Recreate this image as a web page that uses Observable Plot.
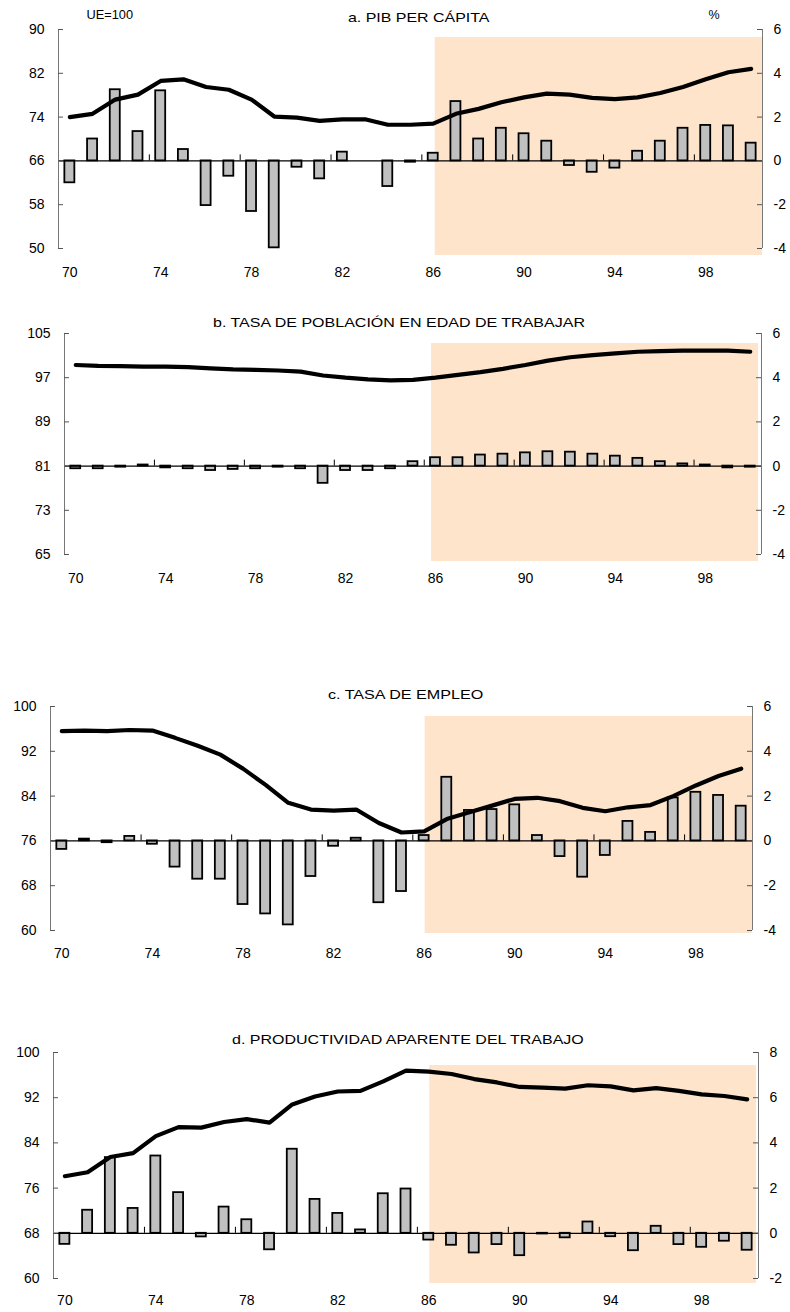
<!DOCTYPE html>
<html><head><meta charset="utf-8">
<script src="https://cdn.jsdelivr.net/npm/d3@7"></script>
<script src="https://cdn.jsdelivr.net/npm/@observablehq/plot@0.6"></script>
<style>
body{margin:0;background:#fff;font-family:"Liberation Sans",Arial,sans-serif;}
#page{position:relative;width:790px;height:1312px;overflow:hidden;background:#fff;}
.lbl{position:absolute;white-space:nowrap;color:#000;line-height:1;font-family:"Liberation Sans",Arial,sans-serif;}
svg.pnl{position:absolute;left:0;}
</style></head><body><div id="page"></div>
<script>
// ---- data ----
const years = [70,71,72,73,74,75,76,77,78,79,80,81,82,83,84,85,86,87,88,89,90,91,92,93,94,95,96,97,98,99,100];
const xTicks = [70,74,78,82,86,90,94,98];
const shadePeriod = [{from: 86, to: 100.5}];

// a. PIB per cápita
const pibLine = [74.0,74.6,77.2,78.1,80.6,80.9,79.5,79.0,77.2,74.1,73.9,73.3,73.6,73.6,72.6,72.6,72.8,74.6,75.5,76.7,77.6,78.3,78.1,77.5,77.3,77.6,78.4,79.5,80.9,82.2,82.8];
const pibBars = [-1.0,1.0,3.25,1.34,3.2,0.52,-2.04,-0.7,-2.31,-3.97,-0.29,-0.82,0.4,0,-1.17,-0.06,0.35,2.71,1.0,1.49,1.24,0.9,-0.21,-0.52,-0.33,0.44,0.9,1.49,1.62,1.6,0.81];
const pibLeftTicks = [50,58,66,74,82,90];
const pibRightTicks = [-4,-2,0,2,4,6];

// b. Tasa de población en edad de trabajar
const wapLine = [99.3,99.15,99.1,99.0,99.0,98.9,98.7,98.5,98.4,98.3,98.1,97.4,97.0,96.7,96.5,96.6,97.0,97.5,98.0,98.6,99.3,100.1,100.7,101.1,101.4,101.7,101.8,101.9,101.9,101.9,101.7];
const wapBars = [-0.12,-0.12,-0.05,0.05,-0.08,-0.12,-0.2,-0.15,-0.12,-0.05,-0.12,-0.78,-0.2,-0.2,-0.12,0.2,0.38,0.38,0.5,0.54,0.6,0.65,0.63,0.54,0.45,0.35,0.2,0.1,0.05,-0.08,-0.05];
const wapLeftTicks = [65,73,81,89,97,105];
const wapRightTicks = [-4,-2,0,2,4,6];

// c. Tasa de empleo
const empLine = [95.6,95.7,95.6,95.8,95.7,94.4,93.0,91.4,88.9,86.0,82.8,81.6,81.4,81.6,79.2,77.5,77.7,79.9,81.1,82.3,83.5,83.7,83.1,81.9,81.3,82.0,82.4,84.0,85.9,87.6,88.9];
const empBars = [-0.38,0.08,-0.08,0.2,-0.15,-1.17,-1.71,-1.71,-2.84,-3.26,-3.75,-1.59,-0.24,0.12,-2.76,-2.26,0.24,2.84,1.36,1.4,1.61,0.24,-0.7,-1.62,-0.65,0.87,0.38,1.92,2.17,2.03,1.55];
const empLeftTicks = [60,68,76,84,92,100];
const empRightTicks = [-4,-2,0,2,4,6];

// d. Productividad aparente del trabajo
const prodLine = [78.1,78.8,81.5,82.2,85.2,86.8,86.7,87.7,88.2,87.6,90.8,92.2,93.1,93.2,94.9,96.8,96.6,96.2,95.3,94.7,93.9,93.8,93.6,94.2,94.0,93.3,93.7,93.2,92.6,92.3,91.7];
const prodBars = [-0.49,1.02,3.35,1.1,3.42,1.8,-0.16,1.16,0.6,-0.73,3.72,1.5,0.88,0.15,1.75,1.96,-0.3,-0.53,-0.87,-0.5,-0.99,-0.03,-0.2,0.5,-0.15,-0.77,0.31,-0.5,-0.62,-0.35,-0.75];
const prodLeftTicks = [60,68,76,84,92,100];
const prodRightTicks = [-2,0,2,4,6,8];

const titles = ["a. PIB PER CÁPITA","b. TASA DE POBLACIÓN EN EDAD DE TRABAJAR","c. TASA DE EMPLEO","d. PRODUCTIVIDAD APARENTE DEL TRABAJO"];

// ---- layout ----
const page = document.getElementById("page");
const xDomain = [69.5, 100.5];
const halfBar = 0.22;

const panels = [
  {line: pibLine, bars: pibBars, lt: pibLeftTicks, rt: pibRightTicks, top: 0, h: 290, mt: 29, mb: 42, ml: 58, mr: 28, sh: {t: 8, b: -7, l: 2, r: 0}, pad: 19, title: titles[0], tx: 418, ty: 17, tw: 141},
  {line: wapLine, bars: wapBars, lt: wapLeftTicks, rt: wapRightTicks, top: 300, h: 300, mt: 33, mb: 46, ml: 64, mr: 29, sh: {t: 10, b: -7, l: -4, r: 3}, pad: 19, title: titles[1], tx: 399, ty: 322, tw: 372},
  {line: empLine, bars: empBars, lt: empLeftTicks, rt: empRightTicks, top: 680, h: 300, mt: 26, mb: 50, ml: 50, mr: 38, sh: {t: 10, b: -3, l: 1, r: 0}, pad: 18, title: titles[2], tx: 405, ty: 694, tw: 155},
  {line: prodLine, bars: prodBars, lt: prodLeftTicks, rt: prodRightTicks, top: 1020, h: 292, mt: 32, mb: 34, ml: 53, mr: 32, sh: {t: 13, b: -5, l: 1, r: 2}, pad: 17, title: titles[3], tx: 408, ty: 1039, tw: 352}
];

function label(text, cx, cy, size, targetW) {
  const d = document.createElement("div");
  d.className = "lbl"; d.textContent = text; d.style.fontSize = size + "px";
  page.appendChild(d);
  const w = d.offsetWidth, h = d.offsetHeight;
  d.style.left = (cx - w / 2) + "px";
  d.style.top = (cy - h / 2) + "px";
  if (targetW) { d.style.transform = `scaleX(${targetW / w})`; d.style.transformOrigin = "center"; }
}

panels.forEach(p => {
  const data = years.map((y, i) => ({year: y, line: p.line[i], bar: p.bars[i]}));
  const l0 = p.lt[0], l1 = p.lt[p.lt.length - 1], r0 = p.rt[0], r1 = p.rt[p.rt.length - 1];
  const toRight = v => r0 + (v - l0) * (r1 - r0) / (l1 - l0);
  const tickGaps = xTicks.slice(1).map(t => t - 0.5);
  const svg = Plot.plot({
    width: 790, height: p.h,
    marginTop: p.mt, marginBottom: p.mb, marginLeft: p.ml, marginRight: p.mr,
    style: {fontFamily: "Liberation Sans, Arial, sans-serif", fontSize: "14px", background: "transparent", color: "#000"},
    x: {domain: xDomain, label: null},
    y: {domain: [r0, r1], label: null},
    marks: [
      Plot.rect(shadePeriod, {x1: "from", x2: "to", y1: () => r0, y2: () => r1, fill: "#fde4cb",
        insetTop: p.sh.t, insetBottom: p.sh.b, insetLeft: p.sh.l, insetRight: p.sh.r}),
      Plot.rectY(data, {x1: d => d.year - halfBar, x2: d => d.year + halfBar, y1: () => 0, y2: "bar",
        fill: "#c0c0c0", stroke: "#000", strokeWidth: 1.8}),
      Plot.ruleY([0], {stroke: "#000", strokeWidth: 1.3}),
      Plot.ruleX(tickGaps, {y1: () => 0, y2: () => 0, insetTop: -6, stroke: "#000", strokeWidth: 1}),
      Plot.line(data, {x: "year", y: d => toRight(d.line), stroke: "#000", strokeWidth: 4.2,
        curve: "linear", strokeLinejoin: "round", strokeLinecap: "round"}),
      Plot.ruleX([xDomain[0]], {stroke: "#777", strokeWidth: 1}),
      Plot.ruleX([xDomain[1]], {stroke: "#777", strokeWidth: 1}),
      Plot.ruleY(p.rt, {x1: () => xDomain[0], x2: () => xDomain[0], insetRight: -5, stroke: "#555", strokeWidth: 1}),
      Plot.ruleY(p.rt, {x1: () => xDomain[1], x2: () => xDomain[1], insetLeft: -5, stroke: "#555", strokeWidth: 1}),
      Plot.axisY({anchor: "left", ticks: p.rt, tickSize: 0, tickPadding: 14, label: null,
        tickFormat: d => String(p.lt[p.rt.indexOf(d)])}),
      Plot.axisY({anchor: "right", ticks: p.rt, tickSize: 0, tickPadding: 11, label: null,
        tickFormat: d => String(d)}),
      Plot.axisX({anchor: "bottom", ticks: xTicks, tickSize: 0, tickPadding: p.pad, label: null,
        tickFormat: d => String(d)})
    ]
  });
  svg.classList.add("pnl");
  svg.style.top = p.top + "px";
  page.appendChild(svg);
  label(p.title, p.tx, p.ty, 13, p.tw);
});

label("UE=100", 110, 15, 12.5, 47);
label("%", 714, 15, 12.5, null);
</script></body></html>
